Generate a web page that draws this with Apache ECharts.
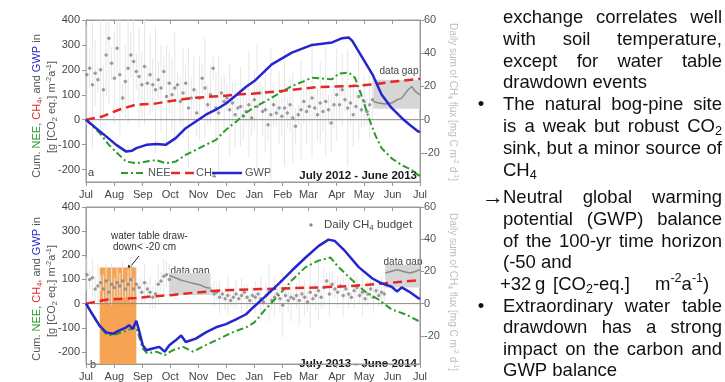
<!DOCTYPE html>
<html><head><meta charset="utf-8">
<script src="https://cdn.jsdelivr.net/npm/echarts@6/dist/echarts.min.js"></script>
<style>html,body{margin:0;padding:0;background:#fff}#c{width:725px;height:382px}</style>
</head><body><div id="c"></div>
<script>
// ---------- axis definitions ----------
const monthStarts = [0,31,62,92,123,153,184,215,243,274,304,335,365];
const monthLabels = ['Jul','Aug','Sep','Oct','Nov','Dec','Jan','Feb','Mar','Apr','May','Jun','Jul'];
const leftTicks = [-200,-100,0,100,200,300,400];
const rightTicks = [-20,0,20,40,60];

// ---------- panel a : July 2012 - June 2013 ----------
const aGwpDays = [0,11,22,33,44,50,55,66,77,87,98,109,120,131,142,153,164,175,184,203,225,247,269,280,287,291,302,313,323,334,345,353,363,365];
const aGwpVals = [0,-34,-67,-101,-128,-125,-114,-101,-98,-101,-74,-34,-7,20,40,65,98,132,155,222,269,300,310,327,330,316,249,182,101,47,7,-18,-47,-50];
const aNeeDays = [0,15,25,36,44,55,66,77,87,98,109,120,131,142,153,164,175,184,203,225,247,269,276,287,294,302,309,316,323,334,345,356,363,365];
const aNeeVals = [0,-54,-101,-141,-168,-175,-168,-162,-175,-168,-141,-121,-101,-81,-40,-8,28,50,88,135,168,162,185,189,168,88,7,-61,-114,-155,-182,-202,-222,-225];
const aCh4Days = [0,18,36,55,73,91,117,146,164,182,218,254,291,313,334,360,365];
const aCh4Vals = [0,13,40,61,63,74,88,94,101,104,117,131,135,141,152,162,164];
// daily CH4 budget (right axis, mg C m-2 d-1), one value every 3 days from day 1
const aDailyStart = 1;
const aDailyVals = [27,31,21,28,24,30,18,39,49,34,25,
  43,27,13,23,31,39,35,29,26,21,
  32,22,27,21,18,24,19,29,14,22,
  15,19,21,11,16,22,7,13,18,4,
  13,25,19,9,15,31,7,4,16,11,
  13,6,10,3,7,8,2,5,9,1,
  12,8,16,5,6,-3,3,9,4,7,
  2,7,4,9,1,-4,3,6,11,5,
  8,13,7,3,10,5,11,6,-2,9,
  15,9,18,12,7,10,3,8,14,6,
  11,5,9,12];
const aDailyErr = [30,12,38,20,8,35,15,25,40,10,28,18,36,9,22,33,14,27,11,30,
  20,35,10,24,16,38,12,26,9,31,18,22,34,8,15,27,11,36,13,20,
  14,25,9,30,12,18,7,22,35,10,16,8,28,12,20,6,24,14,9,32,
  11,18,38,7,15,26,10,40,13,8,22,12,35,9,17,27,11,6,30,14,
  20,10,36,8,16,25,12,33,9,18,14,28,10,22,7,35,12,19,9,26,
  11,15,8,20,13];
const aGapDays = [314,365];
const aGapLo = [6.6,6.6];
const aGapHi = [24,24];
const aGapLineDays = [314,320,327,334,340,345,352,356,360,365];
const aGapLineVals = [11,10,9.5,10,12,13,18,20,17,15];

// ---------- panel b : July 2013 - June 2014 ----------
const bGwpDays = [0,7,15,22,29,36,44,47,51,55,58,62,66,73,80,86,91,98,104,109,120,131,142,153,164,175,182,196,211,225,240,254,265,272,283,298,313,323,334,340,345,353,363,365];
const bGwpVals = [0,-44,-92,-119,-125,-112,-98,-89,-105,-71,-112,-172,-193,-186,-179,-199,-172,-152,-132,-159,-145,-119,-98,-85,-65,-44,-18,30,84,137,191,238,265,259,218,151,104,84,70,50,67,50,23,20];
const bNeeDays = [0,7,15,22,29,44,55,62,67,77,86,95,106,117,131,146,160,175,184,196,211,225,240,254,267,276,291,305,320,334,349,363,365];
const bNeeVals = [0,-45,-95,-125,-132,-112,-98,-186,-206,-199,-213,-193,-179,-199,-172,-145,-119,-98,-78,-24,36,97,151,178,191,151,97,50,16,-24,-44,-71,-73];
const bCh4Days = [0,22,55,73,95,120,146,182,218,254,291,327,363,365];
const bCh4Vals = [0,16,23,30,36,46,54,59,63,67,73,84,97,98];
const bDaily1Start = 1;
const bDaily1Vals = [18,15,16,9,11,13,9,14,7,12,10,13,11,14,9,12,15,9,12,10,7,13,9,7,4,6,12,14,17,18,15];
const bDaily1Err = [10,6,12,8,14,5,9,11,7,13,6,10,8,12,5,9,14,7,11,6,8,12,5,10,7,9,13,6,11,8,10];
const bDaily2Start = 137;
const bDaily2Vals = [8,6,7,4,6,3,5,2,4,6,3,5,7,4,2,5,
  4,6,3,1,5,7,2,4,6,3,-1,5,2,4,3,
  5,2,6,4,1,7,3,5,8,4,10,14,6,12,9,
  7,11,5,9,6,4,8,10,5,7,3,6,9,4,8,5,7,6];
const bDaily2Err = [4,8,5,10,3,7,12,4,6,9,3,11,5,8,4,6,
  10,5,14,3,8,18,6,12,4,9,20,5,7,15,4,
  8,16,5,11,6,22,4,9,18,7,12,5,14,8,6,
  10,4,13,6,9,3,11,7,5,15,4,8,6,10,3,7,9,5];
const bGap1Days = [91,136];
const bGap1Lo = [5.4,5.4];
const bGap1Hi = [19,19];
const bGap1LineDays = [91,97,104,111,118,125,131,136];
const bGap1LineVals = [17.5,16.2,14.5,13.5,12.5,11.5,10,9.5];
const bGap2Days = [327,365];
const bGap2Lo = [10,10];
const bGap2Hi = [24,24];
const bGap2LineDays = [327,333,340,347,354,360,365];
const bGap2LineVals = [19,20,21,20,19,20,21];
const drawdownDays = [15,55];
const drawdownTop = 150;

// ---------- helpers ----------
const FF = '"Liberation Sans", Arial, sans-serif';
const LMIN=-250, LMAX=400, RMIN=-37.5, RMAX=60;
const zip = (xs, ys) => xs.map((x,i)=>[x, ys[i]]);
const dailyDays = (start, n) => Array.from({length:n}, (_, i) => start + 3*i);
const errData = (days, vals, errs) => days.map((d,i)=>[d, Math.max(vals[i]-errs[i], RMIN), Math.min(vals[i]+errs[i], RMAX)]);

const C_NEE='#2a9a2a', C_CH4='#e82626', C_GWP='#2626d0', C_TXT='#555';

function xBottom(gi){return {type:'value',gridIndex:gi,min:0,max:365,position:'bottom',
  axisLine:{show:true,onZero:false,lineStyle:{color:'#999'}},
  axisTick:{show:true,inside:false,length:4,customValues:monthStarts,lineStyle:{color:'#999'}},
  axisLabel:{show:true,customValues:monthStarts,showMinLabel:true,showMaxLabel:true,
    formatter:v=>{const k=monthStarts.indexOf(Math.round(v));return k>=0?monthLabels[k]:'';},
    color:'#444',fontSize:11,fontFamily:FF,margin:7},
  splitLine:{show:false}};}
function xTop(gi){return {type:'value',gridIndex:gi,min:0,max:365,position:'top',
  axisLine:{show:true,onZero:false,lineStyle:{color:'#999'}},
  axisTick:{show:true,inside:true,length:4,customValues:monthStarts,lineStyle:{color:'#999'}},
  axisLabel:{show:false},splitLine:{show:false}};}
function yLeft(gi){return {type:'value',gridIndex:gi,min:LMIN,max:LMAX,position:'left',
  axisLine:{show:true,onZero:false,lineStyle:{color:'#999'}},
  axisTick:{show:true,length:4,customValues:leftTicks,lineStyle:{color:'#999'}},
  axisLabel:{customValues:leftTicks,color:'#444',fontSize:11,fontFamily:FF,margin:6},
  splitLine:{show:false}};}
function yRight(gi){return {type:'value',gridIndex:gi,min:RMIN,max:RMAX,position:'right',
  axisLine:{show:true,onZero:false,lineStyle:{color:'#999'}},
  axisTick:{show:true,length:4,customValues:rightTicks,lineStyle:{color:'#999'}},
  axisLabel:{customValues:rightTicks,color:'#555',fontSize:11,fontFamily:FF,margin:4},
  splitLine:{show:false}};}

function errSeries(xi, yi, data){return {type:'custom',xAxisIndex:xi,yAxisIndex:yi,z:1,silent:true,data:data,
  renderItem:(p,api)=>{const a=api.coord([api.value(0),api.value(1)]),b=api.coord([api.value(0),api.value(2)]);
    return {type:'line',shape:{x1:a[0],y1:a[1],x2:b[0],y2:b[1]},style:{stroke:'#e6e6e6',lineWidth:1}};}};}
function bandSeries(xi, yi, days, lo, hi){return {type:'custom',xAxisIndex:xi,yAxisIndex:yi,z:2,silent:true,
  data:[[days[0],lo[0]]],
  renderItem:(p,api)=>{const pts=[];days.forEach((d,i)=>pts.push(api.coord([d,hi[i]])));
    for(let i=days.length-1;i>=0;i--)pts.push(api.coord([days[i],lo[i]]));
    return {type:'polygon',shape:{points:pts},style:{fill:'#d6d6d6'}};}};}
function lineSeries(xi, yi, data, color, width, type, z){return {type:'line',xAxisIndex:xi,yAxisIndex:yi,data:data,
  symbol:'none',showSymbol:false,silent:true,z:z||5,lineStyle:{color:color,width:width,type:type||'solid'}};}
function scatterSeries(xi, yi, data){return {type:'scatter',xAxisIndex:xi,yAxisIndex:yi,data:data,symbol:'circle',
  symbolSize:3.5,itemStyle:{color:'#848484'},silent:true,z:3};}

const aDays = dailyDays(aDailyStart, aDailyVals.length);
const b1Days = dailyDays(bDaily1Start, bDaily1Vals.length);
const b2Days = dailyDays(bDaily2Start, bDaily2Vals.length);
const DASHDOT=[7,3,2,3], DASH=[9,5];

const series = [
  // panel a
  errSeries(0,1,errData(aDays,aDailyVals,aDailyErr)),
  bandSeries(0,1,aGapDays,aGapLo,aGapHi),
  lineSeries(0,1,zip(aGapLineDays,aGapLineVals),'#8a8a8a',1.5,'solid',3),
  scatterSeries(0,1,zip(aDays,aDailyVals)),
  lineSeries(0,0,[[0,0],[365,0]],'#888',1,'solid',3),
  lineSeries(0,0,zip(aNeeDays,aNeeVals),C_NEE,2,DASHDOT,5),
  lineSeries(0,0,zip(aCh4Days,aCh4Vals),C_CH4,2.5,DASH,5),
  lineSeries(0,0,zip(aGwpDays,aGwpVals),C_GWP,2.5,'solid',6),
  // panel b
  errSeries(2,3,errData(b1Days,bDaily1Vals,bDaily1Err).concat(errData(b2Days,bDaily2Vals,bDaily2Err))),
  {type:'line',xAxisIndex:2,yAxisIndex:2,data:[],z:2,silent:true,
    markArea:{silent:true,itemStyle:{color:'#f6a354'},data:[[{coord:[drawdownDays[0],LMIN]},{coord:[drawdownDays[1],drawdownTop]}]]}},
  bandSeries(2,3,bGap1Days,bGap1Lo,bGap1Hi),
  bandSeries(2,3,bGap2Days,bGap2Lo,bGap2Hi),
  lineSeries(2,3,zip(bGap1LineDays,bGap1LineVals),'#8a8a8a',1.5,'solid',3),
  lineSeries(2,3,zip(bGap2LineDays,bGap2LineVals),'#8a8a8a',1.5,'solid',3),
  scatterSeries(2,3,zip(b1Days,bDaily1Vals).concat(zip(b2Days,bDaily2Vals))),
  lineSeries(2,2,[[0,0],[365,0]],'#888',1,'solid',3),
  lineSeries(2,2,zip(bNeeDays,bNeeVals),C_NEE,2,DASHDOT,5),
  lineSeries(2,2,zip(bCh4Days,bCh4Vals),C_CH4,2.5,DASH,5),
  lineSeries(2,2,zip(bGwpDays,bGwpVals),C_GWP,2.5,'solid',6)
];

// ---------- text layout helpers ----------
const mctx = document.createElement('canvas').getContext('2d');
const FONT = (s,b) => (b?'bold ':'')+s+'px '+FF;
function tw(t,s,b){mctx.font=FONT(s,b);return mctx.measureText(t).width;}
function segsOf(pieces){const out=[];pieces.forEach(([s,c])=>{const re=/(_|\^)\{([^}]*)\}/g;let last=0,m;
  while((m=re.exec(s))){if(m.index>last)out.push({t:s.slice(last,m.index),k:'n',c});out.push({t:m[2],k:m[1]==='_'?'sub':'sup',c});last=re.lastIndex;}
  if(last<s.length)out.push({t:s.slice(last),k:'n',c});});return out;}
const segFs=(k,fs)=>k==='n'?fs:fs*0.68;
const widthOf=(segs,fs,b)=>segs.reduce((a,s)=>a+tw(s.t,segFs(s.k,fs),b),0);
function build(segs,x0,y,fs,b){const els=[];let x=x0;segs.forEach(s=>{const f=segFs(s.k,fs);
  const dy=s.k==='sub'?fs*0.28:s.k==='sup'?-fs*0.32:0;
  els.push({type:'text',x:x,y:y+dy,silent:true,style:{text:s.t,font:FONT(f,b),fill:s.c,align:'left',verticalAlign:'middle',textAlign:'left',textVerticalAlign:'middle'}});
  x+=tw(s.t,f,b);});return els;}
function textAt(pieces,x,y,fs,b,align){const segs=segsOf(pieces);const W=widthOf(segs,fs,b);
  const x0=align==='right'?x-W:align==='center'?x-W/2:x;return build(segs,x0,y,fs,b);}
function rotated(pieces,cx,cy,fs,rot){const segs=segsOf(pieces);const W=widthOf(segs,fs,false);
  return {type:'group',x:cx,y:cy,rotation:rot,silent:true,children:build(segs,-W/2,0,fs,false)};}

const graphics = [];
// left axis titles
[[106,107],[289,291]].forEach(([y1,y2])=>{
  graphics.push(rotated([['Cum. ',C_TXT],['NEE',C_NEE],[', ',C_TXT],['CH_{4}',C_CH4],[', and ',C_TXT],['GWP',C_GWP],[' in',C_TXT]],37,y1,11,Math.PI/2));
  graphics.push(rotated([['[g [CO_{2} eq.] m^{-2}a^{-1}]',C_TXT]],52,y2,11,Math.PI/2));
});
// right axis titles
[102,292].forEach(y=>graphics.push(rotated([['Daily sum of CH_{4} flux [mg C m^{-2} d^{-1}]','#bdbdbd']],453,y,10,-Math.PI/2)));
// panel labels & periods
graphics.push(...textAt([['a','#444']],88,173,11,false,'left'));
graphics.push(...textAt([['b','#444']],90,365,11,false,'left'));
graphics.push(...textAt([['July 2012 - June 2013','#1a1a1a']],417,176,11.5,true,'right'));
graphics.push(...textAt([['July 2013 - June 2014','#1a1a1a']],417,364,11.5,true,'right'));
// legend panel a
graphics.push({type:'line',silent:true,shape:{x1:121,y1:173,x2:145,y2:173},style:{stroke:C_NEE,lineWidth:2,lineDash:DASHDOT}});
graphics.push(...textAt([['NEE',C_TXT]],148,173,11,false,'left'));
graphics.push({type:'line',silent:true,shape:{x1:171,y1:173,x2:194,y2:173},style:{stroke:C_CH4,lineWidth:2.5,lineDash:DASH}});
graphics.push(...textAt([['CH_{4}',C_TXT]],196,173,11,false,'left'));
graphics.push({type:'line',silent:true,shape:{x1:212,y1:173,x2:242,y2:173},style:{stroke:C_GWP,lineWidth:2.5}});
graphics.push(...textAt([['GWP',C_TXT]],245,173,11,false,'left'));
// legend panel b
graphics.push({type:'circle',silent:true,shape:{cx:311,cy:225,r:1.7},style:{fill:'#8a8a8a'}});
graphics.push(...textAt([['Daily CH_{4} budget','#444']],324,225,11.5,false,'left'));
// annotations
graphics.push(...textAt([['data gap','#444']],399,71,10,false,'center'));
graphics.push(...textAt([['data gap','#444']],190,271,10,false,'center'));
graphics.push(...textAt([['data gap','#444']],403,262,10,false,'center'));
graphics.push(...textAt([['water table draw-','#333']],111,236,10,false,'left'));
graphics.push(...textAt([['down< -20 cm','#333']],113,247,10,false,'left'));
(function(){const x1=139,y1=256,x2=127,y2=271;const dx=x2-x1,dy=y2-y1,L=Math.hypot(dx,dy),ux=dx/L,uy=dy/L;
  const hl=6,hw=3;const bx=x2-ux*hl,by=y2-uy*hl;
  graphics.push({type:'line',silent:true,shape:{x1:x1,y1:y1,x2:bx,y2:by},style:{stroke:'#222',lineWidth:1}});
  graphics.push({type:'polygon',silent:true,shape:{points:[[x2,y2],[bx-uy*hw,by+ux*hw],[bx+uy*hw,by-ux*hw]]},style:{fill:'#222'}});})();

// ---------- right-hand text block ----------
const TX=503, TR=722, FS=18.5, TC='#111';
const textLines = [
  {y:17.5, w:'exchange correlates well', j:1},
  {y:39.5, w:'with soil temperature,', j:1},
  {y:61.5, w:'except for water table', j:1},
  {y:82.5, w:'drawdown events'},
  {y:104.5, b:'•', w:'The natural bog-pine site', j:1},
  {y:126.5, w:'is a weak but robust CO_{2}', j:1},
  {y:148.5, w:'sink, but a minor source of', j:1},
  {y:170.5, w:'CH_{4}'},
  {y:197.5, b:'→', w:'Neutral global warming', j:1},
  {y:219.5, w:'potential (GWP) balance', j:1},
  {y:241.5, w:'of the 100-yr time horizon', j:1},
  {y:262.5, w:'(-50 and'},
  {y:284.5, w:'+32 g [CO_{2}-eq.] m^{-2}a^{-1})', xs:[500,535,553,655]},
  {y:306.5, b:'•', w:'Extraordinary water table', j:1},
  {y:327.5, w:'drawdown has a strong', j:1},
  {y:349.5, w:'impact on the carbon and', j:1},
  {y:370.5, w:'GWP balance'}
];
textLines.forEach(L=>{
  if(L.b==='•') graphics.push(...textAt([['•',TC]],481,L.y,FS,false,'center'));
  if(L.b==='→') graphics.push(...textAt([['→',TC]],482,L.y,22,false,'left'));
  const words=L.w.split(' ').map(w=>segsOf([[w,TC]]));
  const ws=words.map(s=>widthOf(s,FS,false));
  const tot=ws.reduce((a,b)=>a+b,0);
  const gap=L.j&&words.length>1?(TR-TX-tot)/(words.length-1):tw(' ',FS,false);
  let x=TX;
  words.forEach((s,i)=>{const xx=L.xs?L.xs[i]:x;graphics.push(...build(s,xx,L.y,FS,false));x=xx+ws[i]+gap;});
});

const chart = echarts.init(document.getElementById('c'), null, {renderer:'canvas'});
chart.setOption({
  animation:false,
  backgroundColor:'#fff',
  grid:[{left:86,top:20,width:334,height:162,show:true,borderColor:'#999',borderWidth:1,backgroundColor:'transparent'},
        {left:86,top:207,width:334,height:162,show:true,borderColor:'#999',borderWidth:1,backgroundColor:'transparent'}],
  xAxis:[xBottom(0),xTop(0),xBottom(1),xTop(1)],
  yAxis:[yLeft(0),yRight(0),yLeft(1),yRight(1)],
  series:series,
  graphic:graphics
});
</script></body></html>
